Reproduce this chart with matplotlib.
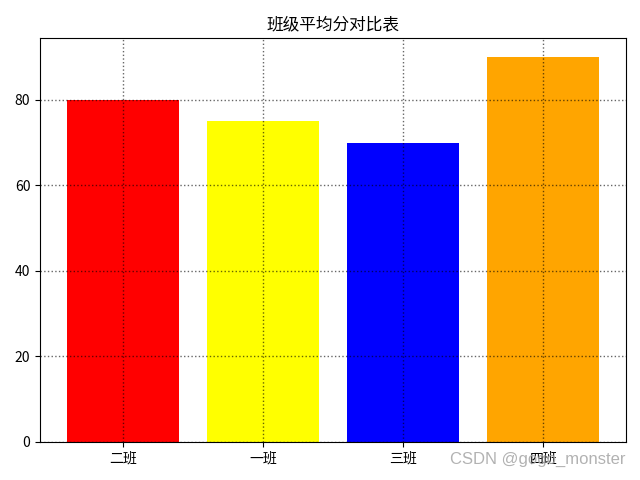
import matplotlib
matplotlib.use("Agg")
import matplotlib.pyplot as plt

plt.rcParams['font.family'] = ['Noto Sans CJK SC', 'DejaVu Sans']
plt.rcParams['axes.unicode_minus'] = False

classes = ['二班', '一班', '三班', '四班']
scores = [80, 75, 70, 90]
colors = ['red', 'yellow', 'blue', 'orange']

fig, ax = plt.subplots(figsize=(6.4, 4.8), dpi=100)
ax.bar(classes, scores, color=colors)
ax.set_title('班级平均分对比表')
ax.grid(True, linestyle=':', color='black', alpha=0.6, linewidth=1)
ax.set_axisbelow(False)
fig.subplots_adjust(left=0.0625, right=0.978, top=0.921, bottom=0.0792)
fig.text(0.977, 0.042, 'CSDN @gogo_monster', ha='right', va='center',
         fontsize=12, color='#aaaaaa', family=['Liberation Sans'], alpha=0.9)
fig.savefig('out.png', dpi=100)
